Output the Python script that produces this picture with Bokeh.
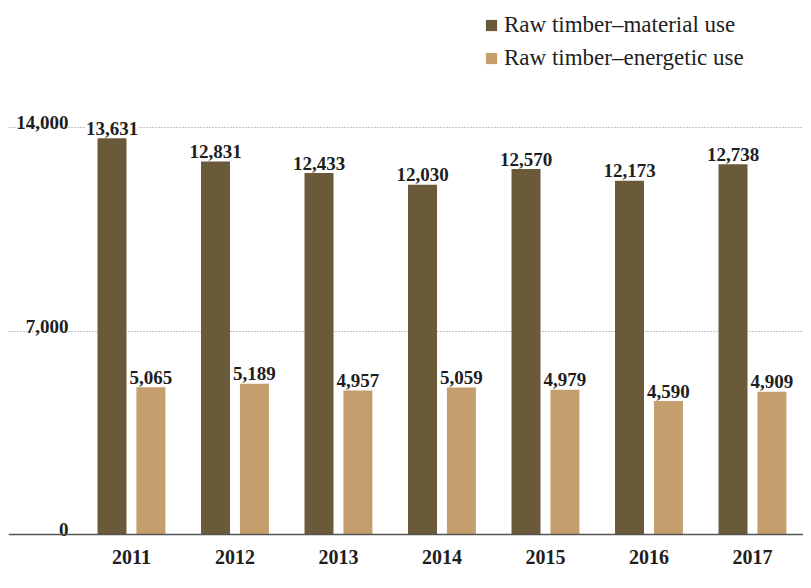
from bokeh.plotting import figure
from bokeh.models import ColumnDataSource, Range1d, FixedTicker, Span, Legend, LegendItem
from bokeh.core.properties import value
from bokeh.embed import file_html
from bokeh.resources import INLINE

years = ["2011", "2012", "2013", "2014", "2015", "2016", "2017"]
material = [13631, 12831, 12433, 12030, 12570, 12173, 12738]
energetic = [5065, 5189, 4957, 5059, 4979, 4590, 4909]
y_ticks = [0, 7000, 14000]
series_names = ["Raw timber\u2013material use", "Raw timber\u2013energetic use"]

MAT_COLOR = "#6b5a39"
EN_COLOR = "#c49e6c"
FONT = "Liberation Serif"
TXT = "#1e1e1e"

W, H = 795, 572
x_start, x_end = -1.188, 6.493
y_start, y_end = -1582, 18094

p = figure(width=W + 8, height=H + 8, output_backend="svg", toolbar_location=None,
           x_range=Range1d(x_start, x_end), y_range=Range1d(y_start, y_end),
           min_border=0, min_border_left=8, min_border_top=8, outline_line_color=None)
p.xaxis.visible = False
p.yaxis.visible = False
p.xgrid.visible = False
p.ygrid.ticker = FixedTicker(ticks=[t for t in y_ticks if t > 0])
p.ygrid.grid_line_color = "#888888"
p.ygrid.grid_line_dash = "1 2"
p.ygrid.grid_line_width = 1

idx = list(range(len(years)))
off = 0.188
bw = 0.28
src = ColumnDataSource(dict(
    xm=[i - off for i in idx], xe=[i + off for i in idx], xc=idx,
    mat=material, en=energetic,
    mat_lbl=[f"{v:,}" for v in material], en_lbl=[f"{v:,}" for v in energetic],
    yr=years, zero=[0] * len(years)))

r1 = p.vbar(x="xm", top="mat", bottom=0, width=bw, source=src, fill_color=MAT_COLOR, line_color=None)
r2 = p.vbar(x="xe", top="en", bottom=0, width=bw, source=src, fill_color=EN_COLOR, line_color=None)

p.add_layout(Span(location=0, dimension="width", line_color="#555555", line_width=1.5))

common = dict(text_font=value(FONT), text_font_style="bold", text_font_size="19px", text_color=TXT)
p.text(x="xm", y="mat", text="mat_lbl", source=src, text_align="center", text_baseline="alphabetic",
       y_offset=-10, background_fill_color="white", **common)
p.text(x="xe", y="en", text="en_lbl", source=src, text_align="center", text_baseline="alphabetic",
       y_offset=-10, **common)
yr_style = dict(common, text_font_size="20px")
p.text(x="xc", y="zero", text="yr", source=src, text_align="center", text_baseline="middle",
       y_offset=22, **yr_style)

tick_src = ColumnDataSource(dict(y=y_ticks, lbl=[f"{t:,}" for t in y_ticks],
                                 x=[x_start + 60 / 103.5] * len(y_ticks)))
p.text(x="x", y="y", text="lbl", source=tick_src, text_align="right", text_baseline="alphabetic",
       y_offset=-5, **common)

legend = Legend(items=[LegendItem(label=series_names[0], renderers=[r1]),
                       LegendItem(label=series_names[1], renderers=[r2])],
                location=(476, 509), orientation="vertical", padding=0, margin=0,
                spacing=7, glyph_width=14, glyph_height=14, label_height=21,
                label_standoff=6, border_line_color=None, background_fill_alpha=0,
                label_text_font=FONT, label_text_font_size="23px", label_text_color=TXT)
p.add_layout(legend, "center")

open("out.html", "w").write(file_html(p, INLINE))
